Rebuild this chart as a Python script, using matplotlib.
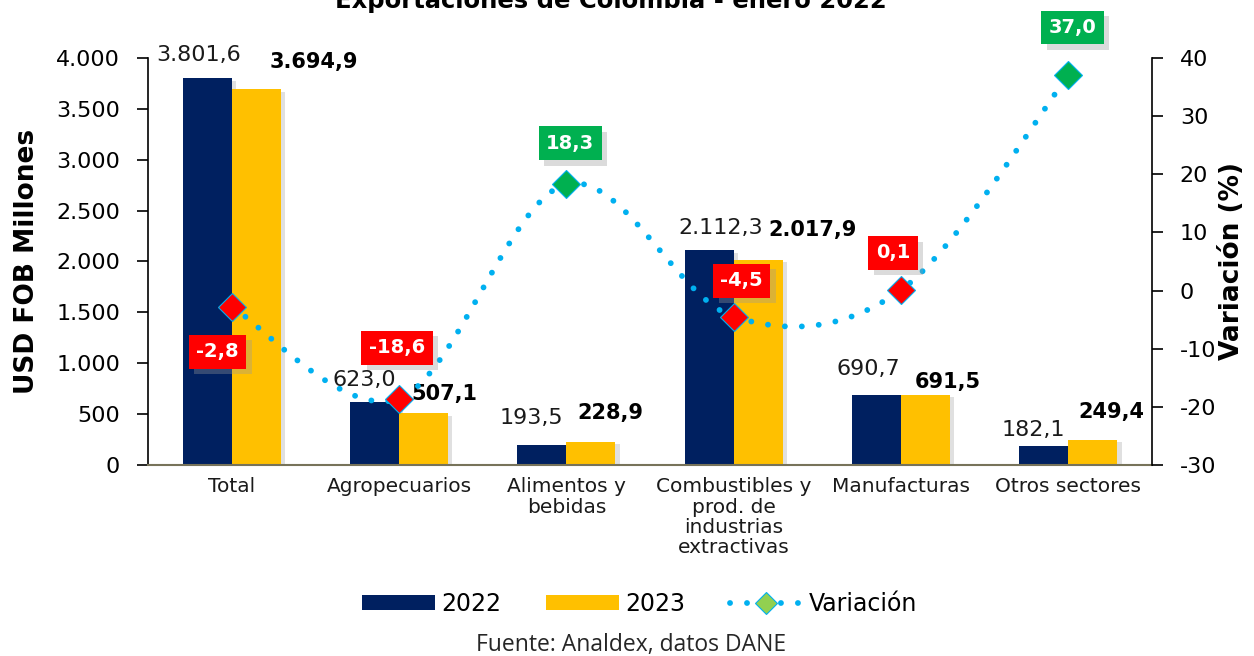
import matplotlib
matplotlib.use('Agg')
import matplotlib.pyplot as plt
import matplotlib.patheffects as pe
from matplotlib.patches import Patch
from matplotlib.lines import Line2D
from matplotlib.ticker import FuncFormatter, FixedLocator
import numpy as np

# ---------------- data ----------------
categories = ['Total', 'Agropecuarios', 'Alimentos y\nbebidas',
              'Combustibles y\nprod. de\nindustrias\nextractivas',
              'Manufacturas', 'Otros sectores']
exp_2022 = [3801.6, 623.0, 193.5, 2112.3, 690.7, 182.1]
exp_2023 = [3694.9, 507.1, 228.9, 2017.9, 691.5, 249.4]
variacion = [-2.8, -18.6, 18.3, -4.5, 0.1, 37.0]
left_ticks = [0, 500, 1000, 1500, 2000, 2500, 3000, 3500, 4000]
right_ticks = [-30, -20, -10, 0, 10, 20, 30, 40]

# ---------------- style ----------------
NAVY = '#002060'
GOLD = '#FFC000'
BLUE = '#00B0F0'
RED = '#FF0000'
GREEN = '#00B050'
var_colors = [RED, RED, GREEN, RED, RED, GREEN]
# label offsets in pixels (dx, dy) for each series
off_2022 = [(-9, 23), (-10, 22), (-10, 27), (12, 22), (-8, 26), (-11, 16)]
off_2023 = [(58, 27), (21, 19), (20, 29), (54, 30), (22, 13), (18, 28)]
off_var = [(-14, -45), (-2, 51), (4, 41), (8, 36), (-8, 37), (4, 48)]

plt.rcParams['font.family'] = ['DejaVu Sans']
plt.rcParams['axes.unicode_minus'] = False


def fmt_es(v, dec=1):
    s = f"{v:,.{dec}f}"
    return s.replace(',', 'X').replace('.', ',').replace('X', '.')


def smooth_curve(xs, ys, n=40):
    P = np.column_stack([xs, ys]).astype(float)
    m = len(P)
    out = []
    for i in range(m - 1):
        p0 = P[i - 1] if i > 0 else P[i]
        p1 = P[i]
        p2 = P[i + 1]
        p3 = P[i + 2] if i + 2 < m else P[i + 1]
        c1 = p1 + (p2 - p0) / 6.0
        c2 = p2 - (p3 - p1) / 6.0
        t = np.linspace(0, 1, n, endpoint=(i == m - 2))[:, None]
        seg = ((1 - t) ** 3) * p1 + 3 * ((1 - t) ** 2) * t * c1 + 3 * (1 - t) * t ** 2 * c2 + t ** 3 * p2
        out.append(seg)
    out = np.vstack(out)
    return out[:, 0], out[:, 1]


fig = plt.figure(figsize=(12.54, 6.56), dpi=100)
ax = fig.add_axes([0.118, 0.2912, 0.8007, 0.6204])
ax2 = ax.twinx()

x = np.arange(len(categories))
w = 0.293
shadow = [pe.SimplePatchShadow(offset=(3, -2), shadow_rgbFace='#999999', alpha=0.3), pe.Normal()]
b1 = ax.bar(x - w / 2, exp_2022, width=w, color=NAVY, zorder=2)
b2 = ax.bar(x + w / 2, exp_2023, width=w, color=GOLD, zorder=2)
for b in list(b1) + list(b2):
    b.set_path_effects(shadow)

for i in range(len(categories)):
    ax.annotate(fmt_es(exp_2022[i]), (x[i] - w / 2, exp_2022[i]), xytext=off_2022[i],
                textcoords='offset pixels', ha='center', va='center', fontsize=16,
                color='#1a1a1a', zorder=5)
    ax.annotate(fmt_es(exp_2023[i]), (x[i] + w / 2, exp_2023[i]), xytext=off_2023[i],
                textcoords='offset pixels', ha='center', va='center', fontsize=15,
                fontweight='bold', color='black', zorder=5)

ax.set_xlim(-0.5, len(categories) - 0.5)
ax.set_ylim(0, 4000)
ax.yaxis.set_major_locator(FixedLocator(left_ticks))
ax.yaxis.set_major_formatter(FuncFormatter(lambda v, p: fmt_es(v, 0)))
ax.set_xticks(x)
ax.set_xticklabels(categories, fontsize=14.5, color='#1a1a1a', linespacing=1.08)
ax.tick_params(axis='x', length=0, pad=9)
ax.tick_params(axis='y', labelsize=16, length=8, width=1.2, direction='out', colors='black', pad=12)
ax.set_ylabel('USD FOB Millones', fontsize=19, fontweight='bold', labelpad=12)
for s in ['top', 'right']:
    ax.spines[s].set_visible(False)
ax.spines['left'].set_linewidth(1.2)
ax.spines['bottom'].set_color('#77735a')
ax.spines['bottom'].set_linewidth(1.5)

# variation line
sx, sy = smooth_curve(x, variacion)
ax2.plot(sx, sy, color=BLUE, linewidth=4.2, linestyle=(0, (0.01, 2.9)),
         dash_capstyle='round', zorder=3)
for i in range(len(categories)):
    ax2.plot([x[i]], [variacion[i]], marker='D', markersize=14, color=var_colors[i],
             markeredgecolor=BLUE, markeredgewidth=0.8, linestyle='none', zorder=4)
    t = ax2.annotate(fmt_es(variacion[i]), (x[i], variacion[i]), xytext=off_var[i],
                     textcoords='offset pixels', ha='center', va='center', fontsize=14,
                     fontweight='bold', color='white', zorder=6,
                     bbox=dict(boxstyle='square,pad=0.38', facecolor=var_colors[i], edgecolor='none'))
    t.get_bbox_patch().set_path_effects(
        [pe.SimplePatchShadow(offset=(4, -4), shadow_rgbFace='#999999', alpha=0.35), pe.Normal()])

ax2.set_ylim(-30, 40)
ax2.yaxis.set_major_locator(FixedLocator(right_ticks))
ax2.tick_params(axis='y', labelsize=16, length=8, width=1.2, direction='out', pad=12)
ax2.set_ylabel('Variación (%)', fontsize=19, fontweight='bold', labelpad=2)
for s in ['top', 'left', 'bottom']:
    ax2.spines[s].set_visible(False)
ax2.spines['right'].set_linewidth(1.2)

# title (cut at top, as in the reference)
fig.text(0.487, 1 - 8 / 656, 'Exportaciones de Colombia - enero 2022', ha='center',
         va='baseline', fontsize=17.5, fontweight='bold')

handles = [Patch(facecolor=NAVY, edgecolor='none'),
           Patch(facecolor=GOLD, edgecolor='none'),
           Line2D([0], [0], color=BLUE, linewidth=4.2, linestyle=(0, (0.01, 2.9)),
                  dash_capstyle='round', marker='D', markersize=11,
                  markerfacecolor='#92D050', markeredgecolor=BLUE, markeredgewidth=0.8)]
leg = fig.legend(handles, ['2022', '2023', 'Variación'], loc='center',
                 bbox_to_anchor=(0.51, 1 - 604 / 656), ncol=3, frameon=False,
                 fontsize=17, handlelength=3.1, handleheight=0.6, handletextpad=0.25,
                 columnspacing=1.9)

fig.text(0.503, 1 - 645 / 656, 'Fuente: Analdex, datos DANE', ha='center', va='center',
         fontsize=16.5, family=['Open Sans', 'DejaVu Sans'], color='#262626')

fig.savefig('out.png', dpi=100)
